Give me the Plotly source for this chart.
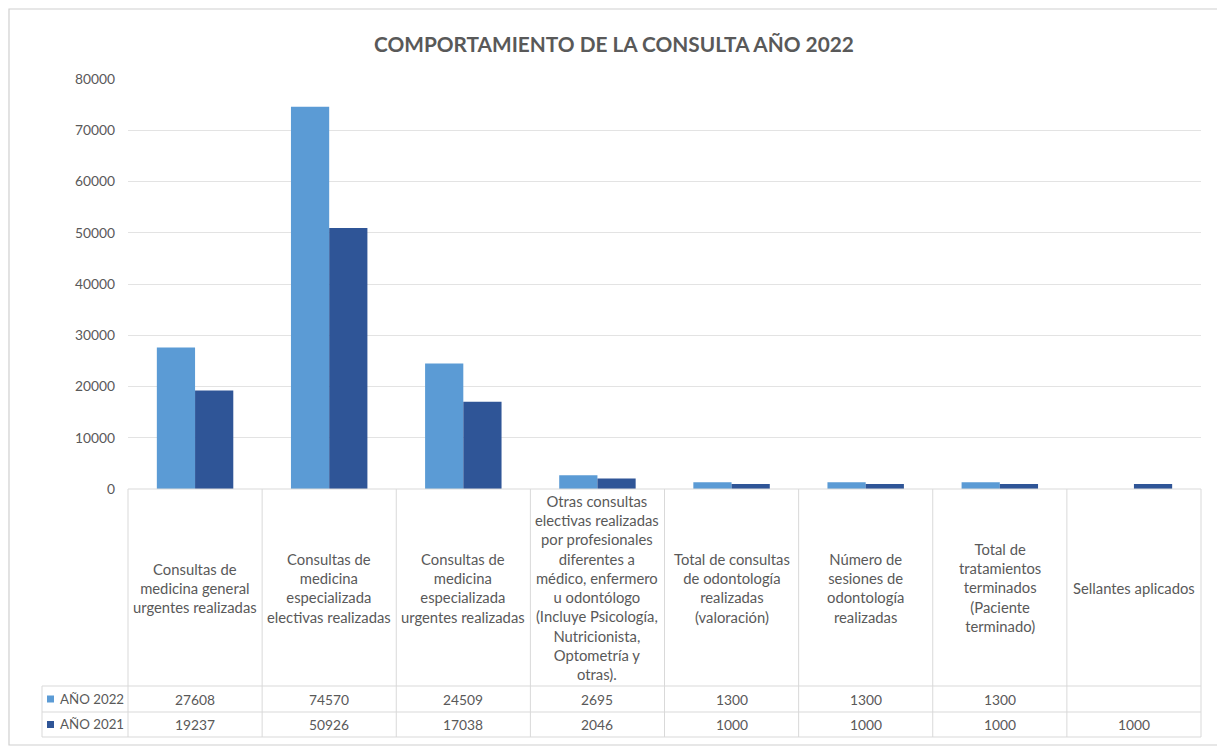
import plotly.graph_objects as go

categories = [
    "Consultas de<br>medicina general<br>urgentes realizadas",
    "Consultas de<br>medicina<br>especializada<br>electivas realizadas",
    "Consultas de<br>medicina<br>especializada<br>urgentes realizadas",
    "Otras consultas<br>electivas realizadas<br>por profesionales<br>diferentes a<br>médico, enfermero<br>u odontólogo<br>(Incluye Psicología,<br>Nutricionista,<br>Optometría y<br>otras).",
    "Total de consultas<br>de odontología<br>realizadas<br>(valoración)",
    "Número de<br>sesiones de<br>odontología<br>realizadas",
    "Total de<br>tratamientos<br>terminados<br>(Paciente<br>terminado)",
    "Sellantes aplicados",
]
series_names = ["AÑO 2022", "AÑO 2021"]
values_2022 = [27608, 74570, 24509, 2695, 1300, 1300, 1300, None]
values_2021 = [19237, 50926, 17038, 2046, 1000, 1000, 1000, 1000]
y_ticks = [0, 10000, 20000, 30000, 40000, 50000, 60000, 70000, 80000]

colors = ["#5B9BD5", "#2F5597"]
text_color = "#595959"
line_color = "#D9D9D9"
FONT = "Lato"

OFF = 8  # page body margin
W, H = 1225 - OFF, 751 - OFF
# plot area in reference page pixels
RL, RR = 128, 1201
RT, RB = 79, 489
L, R, T, B = RL - OFF, RR - OFF, RT - OFF, RB - OFF


def px(x):
    return (x - RL) / (RR - RL)


def py(y):
    return (RB - y) / (RB - RT)


n = len(categories)
xs = list(range(n))

fig = go.Figure()
for name, vals, c in zip(series_names, [values_2022, values_2021], colors):
    fig.add_trace(go.Bar(x=xs, y=vals, name=name, marker=dict(color=c, line=dict(width=0)),
                         showlegend=False))

shapes = []
annotations = []

# outer border
shapes.append(dict(type="rect", xref="paper", yref="paper",
                   x0=px(9), x1=px(1219), y0=py(745), y1=py(9),
                   line=dict(color="#D0D0D0", width=1.2), fillcolor="rgba(0,0,0,0)"))

# table geometry (reference pixels)
row_top, row1, row2, row_bot = 489, 686, 712, 737
legend_left = 42
col_w = (RR - RL) / n
for i in range(n + 1):
    xv = RL + i * col_w
    shapes.append(dict(type="line", xref="paper", yref="paper",
                       x0=px(xv), x1=px(xv), y0=py(row_top), y1=py(row_bot),
                       line=dict(color=line_color, width=1)))
shapes.append(dict(type="line", xref="paper", yref="paper",
                   x0=px(legend_left), x1=px(legend_left), y0=py(row1), y1=py(row_bot),
                   line=dict(color=line_color, width=1)))
shapes.append(dict(type="line", xref="paper", yref="paper",
                   x0=px(RL), x1=px(RR), y0=py(row_top), y1=py(row_top),
                   line=dict(color=line_color, width=1)))
for yy in [row1, row2, row_bot]:
    shapes.append(dict(type="line", xref="paper", yref="paper",
                       x0=px(legend_left), x1=px(RR), y0=py(yy), y1=py(yy),
                       line=dict(color=line_color, width=1)))

# category labels
for i, cat in enumerate(categories):
    annotations.append(dict(x=i, xref="x", yref="paper", y=py((row_top + row1) / 2),
                            text=cat, showarrow=False, xanchor="center", yanchor="middle",
                            align="center", font=dict(family=FONT, size=14.8, color=text_color)))

# value rows
for vals, yc in [(values_2022, (row1 + row2) / 2), (values_2021, (row2 + row_bot) / 2)]:
    for i, v in enumerate(vals):
        if v is None:
            continue
        annotations.append(dict(x=i, xref="x", yref="paper", y=py(yc), text=str(v),
                                showarrow=False, xanchor="center", yanchor="middle",
                                font=dict(family=FONT, size=13.8, color=text_color)))

# legend keys
for name, c, yc in zip(series_names, colors, [(row1 + row2) / 2, (row2 + row_bot) / 2]):
    shapes.append(dict(type="rect", xref="paper", yref="paper",
                       x0=px(47), x1=px(54), y0=py(yc + 3.5), y1=py(yc - 3.5),
                       line=dict(width=0), fillcolor=c))
    annotations.append(dict(x=px(58), xref="paper", yref="paper", y=py(yc), text=name,
                            showarrow=False, xanchor="left", yanchor="middle",
                            font=dict(family=FONT, size=13.3, color=text_color)))

# title
annotations.append(dict(x=px(614), xref="paper", yref="paper", y=py(44),
                        text="<b>COMPORTAMIENTO DE LA CONSULTA AÑO 2022</b>",
                        showarrow=False, xanchor="center", yanchor="middle",
                        font=dict(family=FONT, size=20.8, color=text_color)))

fig.update_layout(
    width=W, height=H,
    margin=dict(l=L, r=W - R, t=T, b=H - B, pad=0),
    paper_bgcolor="white", plot_bgcolor="white",
    barmode="group", bargap=0.43, bargroupgap=0,
    shapes=shapes, annotations=annotations,
    xaxis=dict(range=[-0.5, n - 0.5], showticklabels=False, showgrid=False,
               zeroline=False, showline=False, ticks=""),
    yaxis=dict(range=[0, 80000], tickvals=y_ticks, tickformat="d", showgrid=True,
               gridcolor="#E3E3E3", gridwidth=1, zeroline=False, showline=False, ticks="",
               ticklabelstandoff=12,
               tickfont=dict(family=FONT, size=13.8, color=text_color)),
    font=dict(family=FONT, color=text_color),
)

fig.write_html("out.html")
